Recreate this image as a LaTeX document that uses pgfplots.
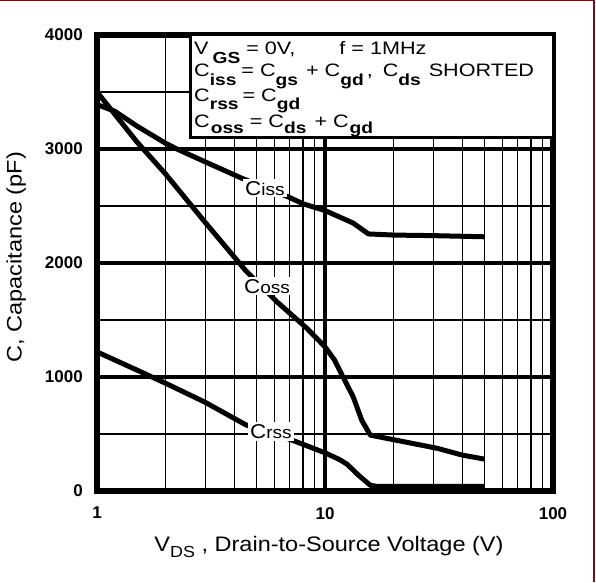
\documentclass[border=0pt]{standalone}
\usepackage{fontspec}
\setmainfont{Liberation Sans}
\newfontfamily\wide{Liberation Sans}[FakeStretch=1.12]
\newfontfamily\bxf{Liberation Sans}[FakeStretch=1.2]
\newfontfamily\tk{Liberation Sans}[FakeStretch=1.0]
\usepackage{pgfplots}
\pgfplotsset{compat=1.18}
\newcommand\fs[1]{\fontsize{#1}{#1}\selectfont}
\newcommand\sub[2][9]{\raisebox{-#1pt}{\fs{16}#2}}
\newcommand\bsub[2][9]{\raisebox{-#1pt}{\fs{16}\bfseries #2}}
\begin{document}
\begin{tikzpicture}
\begin{axis}[
 scale only axis, width=456pt, height=456pt,
 xmode=log, xmin=1, xmax=100, ymin=0, ymax=4000,
 xtick={1,10,100}, xticklabels={1,10,100},
 minor xtick={2,3,4,5,6,7,8,9,20,30,40,50,60,70,80,90},
 ytick={0,1000,2000,3000,4000}, yticklabels={0,1000,2000,3000,4000},
 minor ytick={500,1500,2500,3500},
 major tick length=0pt, minor tick length=0pt,
 grid=both,
 major grid style={line width=3.2pt, black},
 minor grid style={line width=1.3pt, black},
 axis line style={line width=6.5pt},
 xticklabel style={font=\tk\bfseries\fs{17}, inner sep=0pt, anchor=north, yshift=-16pt},
 yticklabel style={font=\tk\bfseries\fs{17}, inner sep=0pt, anchor=east, xshift=-14pt},
 xlabel={V\sub[6]{DS} , Drain-to-Source Voltage (V)},
 ylabel={C, Capacitance (pF)},
 xlabel style={font=\wide\fs{21}, at={(axis description cs:0.5088,-0.1331)}, anchor=base, inner sep=0pt},
 ylabel style={font=\wide\fs{21}, at={(axis description cs:-0.1651,0.513)}, anchor=base, inner sep=0pt},
]
% Ciss
\addplot[black, no marks, line width=5pt, line join=round] coordinates {(1,3390) (1.2,3330) (1.5,3200) (2,3050) (2.24,3000) (3,2885) (4.3,2745) (5.5,2660) (6.9,2580) (8,2520) (10,2460) (12,2390) (13.3,2350) (15.5,2255) (20,2245) (30,2240) (50,2230)};
% Coss
\addplot[black, no marks, line width=5pt, line join=round] coordinates {(1,3500) (1.5,3060) (2,2780) (3,2350) (4.46,1940) (6.15,1660) (8.3,1430) (10,1265) (11,1150) (12,1000) (13.3,825) (14.5,620) (15.8,490) (20,450) (31,375) (40,315) (50,280)};
% Crss
\addplot[black, no marks, line width=5pt, line join=round] coordinates {(1,1220) (1.5,1060) (2,945) (2.97,780) (4.5,580) (7.2,445) (10,335) (11.6,275) (12.5,235) (14,140) (15.8,50) (17,40) (50,40)};
\end{axis}
\begin{scope}[x=1pt,y=-1pt,shift={(-97pt,491pt)}]
\draw[line width=3pt, fill=white] (190,35) rectangle (553,137);
\node[anchor=base west, inner sep=0pt, font=\bxf\fs{18}] at (194,54.7) {V\hspace{4pt}\bsub{GS} = 0V,\hspace{44pt}f = 1MHz};
\node[anchor=base west, inner sep=0pt, font=\bxf\fs{18}] at (194,76.3) {C\bsub[9.4]{iss}\hspace{5pt}= C\bsub[9.4]{gs}\hspace{2pt} + C\bsub[9.4]{gd}\hspace{3pt},\hspace{10pt}C\bsub[9.4]{ds}\hspace{8pt}SHORTED};
\node[anchor=base west, inner sep=0pt, font=\bxf\fs{18}] at (194,101.3) {C\bsub[8.4]{rss}\hspace{4pt}= C\bsub[8.4]{gd}};
\node[anchor=base west, inner sep=0pt, font=\bxf\fs{18}] at (194,127) {C\hspace{1pt}\bsub[6]{oss} = C\bsub[6]{ds}\hspace{2pt} + C\hspace{1pt}\bsub[6]{gd}};
\node[anchor=base west, fill=white, inner sep=2pt] at (243,195) {\wide\fs{20}C\fs{17}iss};
\node[anchor=base west, fill=white, inner sep=2pt] at (242,293.3) {\wide\fs{20}C\fs{17}oss};
\node[anchor=base west, fill=white, inner sep=2pt] at (248,438.3) {\wide\fs{20}C\fs{17}rss};
\draw[line width=1.5pt, color={rgb,255:red,110;green,20;blue,20}] (0,0.75)--(594,0.75)--(594,582);
\pgfresetboundingbox
\path[use as bounding box] (0,0) rectangle (596,582);
\end{scope}
\end{tikzpicture}
\end{document}
